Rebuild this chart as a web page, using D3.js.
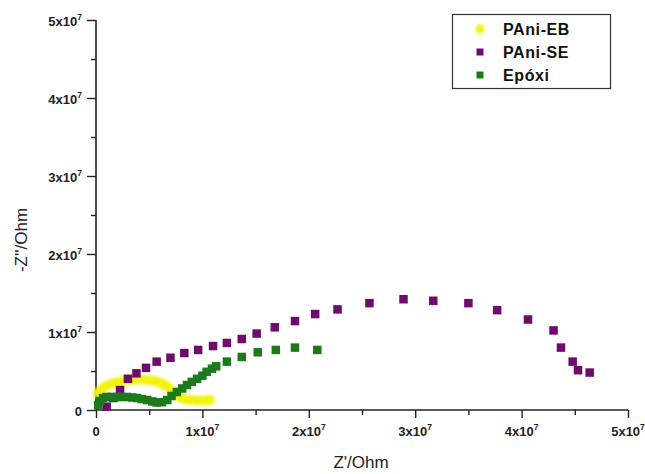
<!DOCTYPE html>
<html>
<head>
<meta charset="utf-8">
<script src="https://cdn.jsdelivr.net/npm/d3@7"></script>
<style>
  html, body { margin: 0; padding: 0; background: #fff; }
  svg { display: block; }
  text { font-family: "Liberation Sans", Arial, sans-serif; }
</style>
</head>
<body>
<svg id="chart" width="645" height="474"></svg>
<script>
// Series names
const seriesNames = ["PAni-EB", "PAni-SE", "Epóxi"];

// PAni-EB (values in units of 1e7 Ohm)
const ebX = [0.019,0.056,0.094,0.141,0.188,0.235,0.282,0.329,0.376,0.423,0.47,0.517,0.564,0.611,0.648,0.686,0.724,0.761,0.80,0.846,0.893,0.94,0.987,1.034,1.07];
const ebY = [0.218,0.269,0.308,0.333,0.353,0.365,0.378,0.385,0.391,0.391,0.385,0.378,0.365,0.346,0.32,0.282,0.237,0.192,0.154,0.135,0.128,0.122,0.122,0.122,0.128];

// PAni-SE
const seX = [0.10,0.163,0.226,0.30,0.38,0.47,0.57,0.70,0.83,0.96,1.10,1.23,1.37,1.51,1.68,1.87,2.06,2.27,2.57,2.89,3.17,3.50,3.77,4.06,4.30,4.37,4.48,4.53,4.64];
const seY = [0.042,0.154,0.256,0.40,0.47,0.54,0.62,0.67,0.73,0.77,0.82,0.86,0.91,0.98,1.06,1.14,1.23,1.29,1.37,1.42,1.40,1.37,1.28,1.16,1.02,0.80,0.62,0.51,0.48];

// Epóxi
const epX = [0.02,0.04,0.066,0.10,0.15,0.20,0.24,0.29,0.34,0.385,0.43,0.48,0.53,0.57,0.62,0.67,0.71,0.76,0.81,0.855,0.90,0.95,1.00,1.04,1.09,1.13,1.23,1.37,1.52,1.69,1.87,2.08];
const epY = [0.064,0.115,0.154,0.167,0.167,0.167,0.167,0.167,0.16,0.154,0.14,0.128,0.11,0.096,0.10,0.128,0.18,0.23,0.276,0.32,0.36,0.40,0.44,0.49,0.53,0.56,0.62,0.68,0.74,0.77,0.80,0.77];

// Axis ticks (in units of 1e7)
const xTicks = [0,1,2,3,4,5];
const yTicks = [0,1,2,3,4,5];
const minorTicks = [0.5,1.5,2.5,3.5,4.5];

const colors = { eb: "#f2f20c", se: "#6e0c6e", ep: "#1c7a1c" };

const svg = d3.select("#chart");
const x = d3.scaleLinear().domain([0, 5]).range([96, 628]);
const y = d3.scaleLinear().domain([0, 5]).range([410, 20]);

const defs = svg.append("defs");
defs.append("filter").attr("id", "blur")
  .attr("x", "-50%").attr("y", "-50%").attr("width", "200%").attr("height", "200%")
  .append("feGaussianBlur").attr("stdDeviation", 1.4);

const tickLabel = (sel, d) => {
  if (d === 0) { sel.text("0"); return; }
  sel.append("tspan").text(d + "x10");
  sel.append("tspan").attr("dy", -6).attr("font-size", 8.5).text("7");
};

// X axis
const xAxis = svg.append("g").attr("transform", "translate(0,410)")
  .call(d3.axisBottom(x).tickValues(xTicks).tickSize(8).tickFormat(""));
xAxis.select(".domain").attr("stroke", "#222").attr("stroke-width", 1.6).attr("d", `M${x(0)},0H${x(5)}`);
xAxis.selectAll(".tick line").attr("stroke", "#222").attr("stroke-width", 1.4);
svg.append("g").attr("transform", "translate(0,410)")
  .call(d3.axisBottom(x).tickValues(minorTicks).tickSize(5).tickFormat(""))
  .call(g => { g.select(".domain").remove(); g.selectAll(".tick line").attr("stroke", "#222").attr("stroke-width", 1.4); });
svg.append("g").selectAll("text").data(xTicks).join("text")
  .attr("x", d => x(d)).attr("y", 436)
  .attr("text-anchor", "middle").attr("font-size", 13).attr("font-weight", "bold").attr("fill", "#222")
  .each(function(d){ tickLabel(d3.select(this), d); });

// Y axis
const yAxis = svg.append("g").attr("transform", "translate(96,0)")
  .call(d3.axisLeft(y).tickValues(yTicks).tickSize(9).tickFormat(""));
yAxis.select(".domain").attr("stroke", "#222").attr("stroke-width", 1.6).attr("d", `M0,${y(5)}V${y(0)}`);
yAxis.selectAll(".tick line").attr("stroke", "#222").attr("stroke-width", 1.4);
svg.append("g").attr("transform", "translate(96,0)")
  .call(d3.axisLeft(y).tickValues(minorTicks).tickSize(5).tickFormat(""))
  .call(g => { g.select(".domain").remove(); g.selectAll(".tick line").attr("stroke", "#222").attr("stroke-width", 1.4); });
svg.append("g").selectAll("text").data(yTicks).join("text")
  .attr("x", 82).attr("y", d => y(d) + 6)
  .attr("text-anchor", "end").attr("font-size", 13).attr("font-weight", "bold").attr("fill", "#222")
  .each(function(d){ tickLabel(d3.select(this), d); });

// Axis titles
svg.append("text").attr("x", 361).attr("y", 468).attr("text-anchor", "middle")
  .attr("font-size", 17).attr("fill", "#222").text("Z'/Ohm");
svg.append("text").attr("transform", "translate(27,240) rotate(-90)").attr("text-anchor", "middle")
  .attr("font-size", 17).attr("fill", "#222").text("-Z''/Ohm");

// Data
const eb = ebX.map((v, i) => [v, ebY[i]]);
const se = seX.map((v, i) => [v, seY[i]]);
const ep = epX.map((v, i) => [v, epY[i]]);

svg.append("g").attr("filter", "url(#blur)").selectAll("circle").data(eb).join("circle")
  .attr("cx", d => x(d[0])).attr("cy", d => y(d[1])).attr("r", 5).attr("fill", colors.eb);

const sq = 8.5;
svg.append("g").selectAll("rect").data(se).join("rect")
  .attr("x", d => x(d[0]) - sq/2).attr("y", d => y(d[1]) - sq/2)
  .attr("width", sq).attr("height", sq).attr("fill", colors.se);

svg.append("g").selectAll("rect").data(ep).join("rect")
  .attr("x", d => x(d[0]) - sq/2).attr("y", d => y(d[1]) - sq/2)
  .attr("width", sq).attr("height", sq).attr("fill", colors.ep);

// Legend
const lg = svg.append("g");
lg.append("rect").attr("x", 452.5).attr("y", 14.5).attr("width", 158).attr("height", 74)
  .attr("fill", "#fff").attr("stroke", "#333").attr("stroke-width", 1.2);
const legendRows = [
  { name: seriesNames[0], color: colors.eb, shape: "circle", cy: 29 },
  { name: seriesNames[1], color: colors.se, shape: "rect", cy: 52 },
  { name: seriesNames[2], color: colors.ep, shape: "rect", cy: 75 }
];
legendRows.forEach(r => {
  if (r.shape === "circle") {
    lg.append("circle").attr("cx", 480).attr("cy", r.cy).attr("r", 4.5).attr("fill", r.color).attr("filter", "url(#blur)");
  } else {
    lg.append("rect").attr("x", 476.5).attr("y", r.cy - 3.5).attr("width", 7).attr("height", 7).attr("fill", r.color);
  }
  lg.append("text").attr("x", 503).attr("y", r.cy + 6).attr("font-size", 16).attr("font-weight", "bold")
    .attr("letter-spacing", 0.6).attr("fill", "#111").text(r.name);
});
</script>
</body>
</html>
